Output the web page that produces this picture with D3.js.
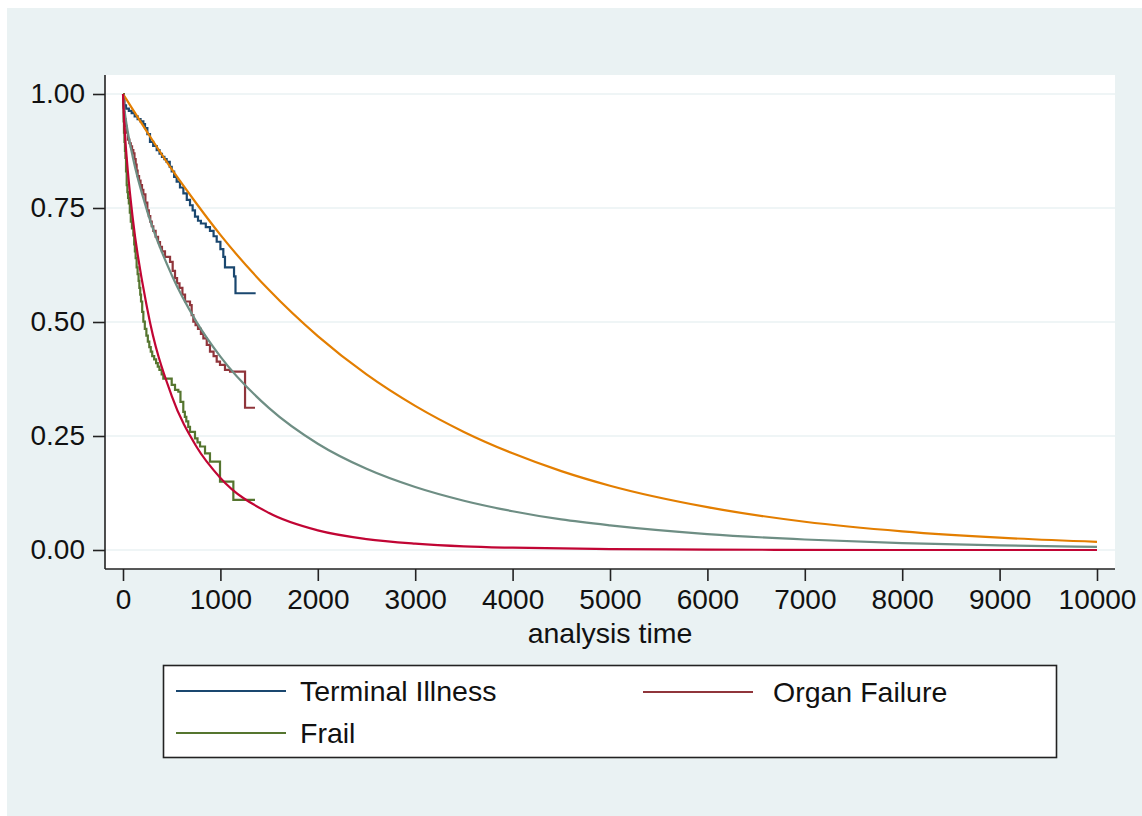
<!DOCTYPE html>
<html>
<head>
<meta charset="utf-8">
<script src="https://cdn.jsdelivr.net/npm/d3@7"></script>
<style>
  body { margin: 0; background: #fff; }
  svg text { font-family: "Liberation Sans", Arial, sans-serif; fill: #111; }
</style>
</head>
<body>
<svg width="1142" height="816"></svg>
<script>
// Kaplan-Meier estimates, [time, survival]
const terminalKM = [
  [0, 1], [8, 0.985], [15, 0.975], [31, 0.968], [60, 0.963], [89, 0.958], [120, 0.951],
  [150, 0.945], [180, 0.940], [209, 0.934], [226, 0.925], [250, 0.912], [277, 0.895],
  [310, 0.886], [346, 0.877], [375, 0.869], [400, 0.862], [425, 0.857], [448, 0.851],
  [480, 0.840], [500, 0.830], [525, 0.818], [551, 0.808], [585, 0.795], [620, 0.782],
  [655, 0.768], [688, 0.756], [715, 0.745], [739, 0.731], [770, 0.722], [800, 0.716],
  [850, 0.708], [893, 0.700], [930, 0.688], [962, 0.676], [1000, 0.660], [1030, 0.643],
  [1047, 0.620], [1140, 0.600], [1155, 0.563], [1362, 0.563]
];
const organKM = [
  [0, 1], [5, 0.975], [10, 0.96], [18, 0.945], [25, 0.93], [35, 0.915], [50, 0.90],
  [65, 0.892], [80, 0.885], [93, 0.877], [106, 0.870], [118, 0.857], [130, 0.845],
  [140, 0.832], [150, 0.820], [165, 0.810], [180, 0.800], [195, 0.790], [209, 0.780],
  [230, 0.762], [250, 0.745], [265, 0.732], [280, 0.720], [295, 0.710], [311, 0.700],
  [335, 0.687], [360, 0.675], [380, 0.665], [400, 0.655], [431, 0.643], [483, 0.632],
  [510, 0.612], [534, 0.596], [555, 0.585], [580, 0.575], [610, 0.560], [637, 0.545],
  [688, 0.537], [705, 0.515], [722, 0.501], [745, 0.493], [770, 0.485], [800, 0.474],
  [825, 0.464], [860, 0.450], [893, 0.435], [930, 0.425], [962, 0.413], [996, 0.406],
  [1047, 0.395], [1099, 0.391], [1253, 0.312], [1355, 0.312]
];
const frailKM = [
  [0, 1], [3, 0.97], [6, 0.94], [10, 0.915], [15, 0.895], [20, 0.875], [25, 0.86],
  [31, 0.83], [38, 0.80], [45, 0.785], [52, 0.772], [60, 0.76], [70, 0.74], [80, 0.72],
  [92, 0.705], [106, 0.690], [115, 0.670], [122, 0.655], [130, 0.640], [140, 0.620],
  [150, 0.605], [160, 0.590], [168, 0.575], [177, 0.560], [185, 0.545], [197, 0.522],
  [209, 0.501], [224, 0.485], [240, 0.470], [255, 0.457], [270, 0.445], [285, 0.435],
  [300, 0.425], [320, 0.418], [340, 0.410], [357, 0.402], [374, 0.395], [397, 0.385],
  [414, 0.376], [500, 0.362], [534, 0.351], [568, 0.347], [590, 0.325], [619, 0.303],
  [635, 0.292], [650, 0.282], [670, 0.270], [688, 0.259], [739, 0.245], [765, 0.236],
  [791, 0.227], [842, 0.212], [893, 0.194], [996, 0.150], [1133, 0.110], [1355, 0.110]
];

// fitted survival curves, [time, survival]
const fitOrange = [
  [0, 1], [250, 0.916], [500, 0.835], [750, 0.761], [1000, 0.691], [1500, 0.570],
  [2000, 0.469], [2500, 0.385], [3000, 0.316], [3500, 0.259], [4000, 0.212], [4500, 0.173],
  [5000, 0.141], [6000, 0.094], [7000, 0.062], [8000, 0.041], [9000, 0.027], [10000, 0.018]
];
const fitTeal = [
  [0, 1], [10, 0.975], [25, 0.950], [50, 0.916], [100, 0.862], [250, 0.742], [500, 0.603],
  [750, 0.502], [1000, 0.424], [1500, 0.311], [2000, 0.233], [2500, 0.178], [3000, 0.138],
  [3500, 0.108], [4000, 0.085], [4500, 0.067], [5000, 0.054], [6000, 0.035], [7000, 0.023],
  [8000, 0.015], [9000, 0.010], [10000, 0.007]
];
const fitRed = [
  [0, 1], [10, 0.947], [25, 0.896], [50, 0.830], [100, 0.728], [250, 0.528], [500, 0.338],
  [750, 0.228], [1000, 0.158], [1500, 0.081], [2000, 0.043], [2500, 0.024], [3000, 0.014],
  [3500, 0.008], [4000, 0.005], [5000, 0.002], [6000, 0.001], [8000, 0.0], [10000, 0.0]
];

const yTicks = [0, 0.25, 0.5, 0.75, 1];
const xTicks = [0, 1000, 2000, 3000, 4000, 5000, 6000, 7000, 8000, 9000, 10000];
const legendNames = ['Terminal Illness', 'Organ Failure', 'Frail'];

const svg = d3.select('svg');

// outer background and plot region
svg.append('rect').attr('x', 7).attr('y', 8).attr('width', 1135).attr('height', 808).attr('fill', '#eaf2f3');
svg.append('rect').attr('x', 105).attr('y', 75).attr('width', 1010).attr('height', 494).attr('fill', '#fff');

const x = d3.scaleLinear().domain([0, 10000]).range([123, 1097]);
const y = d3.scaleLinear().domain([0, 1]).range([550, 94]);

// gridlines
svg.append('g').selectAll('line').data(yTicks).enter().append('line')
  .attr('x1', 105).attr('x2', 1115)
  .attr('y1', d => y(d)).attr('y2', d => y(d))
  .attr('stroke', '#eaf2f3').attr('stroke-width', 1.6);

const step = d3.line().x(d => x(d[0])).y(d => y(d[1])).curve(d3.curveStepAfter);
const smooth = d3.line().x(d => x(d[0])).y(d => y(d[1])).curve(d3.curveMonotoneX);

// KM curves first, fitted curves on top
const kmSeries = [
  { data: terminalKM, color: '#1a476f' },
  { data: organKM, color: '#90353b' },
  { data: frailKM, color: '#55752f' }
];
kmSeries.forEach(s => {
  svg.append('path').attr('d', step(s.data)).attr('fill', 'none')
    .attr('stroke', s.color).attr('stroke-width', 2.2).attr('stroke-linejoin', 'miter');
});

const fitSeries = [
  { data: fitOrange, color: '#e37e00' },
  { data: fitTeal, color: '#6e8e84' },
  { data: fitRed, color: '#c10534' }
];
fitSeries.forEach(s => {
  svg.append('path').attr('d', smooth(s.data)).attr('fill', 'none')
    .attr('stroke', s.color).attr('stroke-width', 2.2);
});

// axes
const yAxis = d3.axisLeft(y).tickValues(yTicks).tickFormat(d3.format('.2f')).tickSize(12).tickPadding(8);
const gy = svg.append('g').attr('transform', 'translate(105,0)').call(yAxis);
gy.select('.domain').attr('d', 'M0,75V569').attr('stroke', '#222').attr('stroke-width', 1.6);
gy.selectAll('.tick line').attr('stroke', '#222').attr('stroke-width', 1.6);
gy.selectAll('.tick text').attr('font-size', 28).attr('fill', '#111')
  .attr('font-family', '"Liberation Sans", Arial, sans-serif');

const xAxis = d3.axisBottom(x).tickValues(xTicks).tickFormat(d3.format('d')).tickSize(12).tickPadding(8);
const gx = svg.append('g').attr('transform', 'translate(0,569)').call(xAxis);
gx.select('.domain').attr('d', 'M105,0H1115').attr('stroke', '#222').attr('stroke-width', 1.6);
gx.selectAll('.tick line').attr('stroke', '#222').attr('stroke-width', 1.6);
gx.selectAll('.tick text').attr('font-size', 28).attr('fill', '#111')
  .attr('font-family', '"Liberation Sans", Arial, sans-serif');

svg.append('text').attr('x', 610).attr('y', 643).attr('text-anchor', 'middle')
  .attr('font-size', 28.5).text('analysis time');

// legend
svg.append('rect').attr('x', 163.5).attr('y', 665.5).attr('width', 893).attr('height', 92)
  .attr('fill', '#fff').attr('stroke', '#222').attr('stroke-width', 1.6);
const legendPos = [
  { lx: 176, ly: 691, tx: 300 },
  { lx: 643, ly: 692, tx: 773 },
  { lx: 176, ly: 733, tx: 300 }
];
legendNames.forEach((name, i) => {
  const p = legendPos[i];
  svg.append('line').attr('x1', p.lx).attr('x2', p.lx + 110).attr('y1', p.ly).attr('y2', p.ly)
    .attr('stroke', kmSeries[i].color).attr('stroke-width', 2.2);
  svg.append('text').attr('x', p.tx).attr('y', p.ly).attr('dy', '0.35em')
    .attr('font-size', 28.5).text(name);
});
</script>
</body>
</html>
